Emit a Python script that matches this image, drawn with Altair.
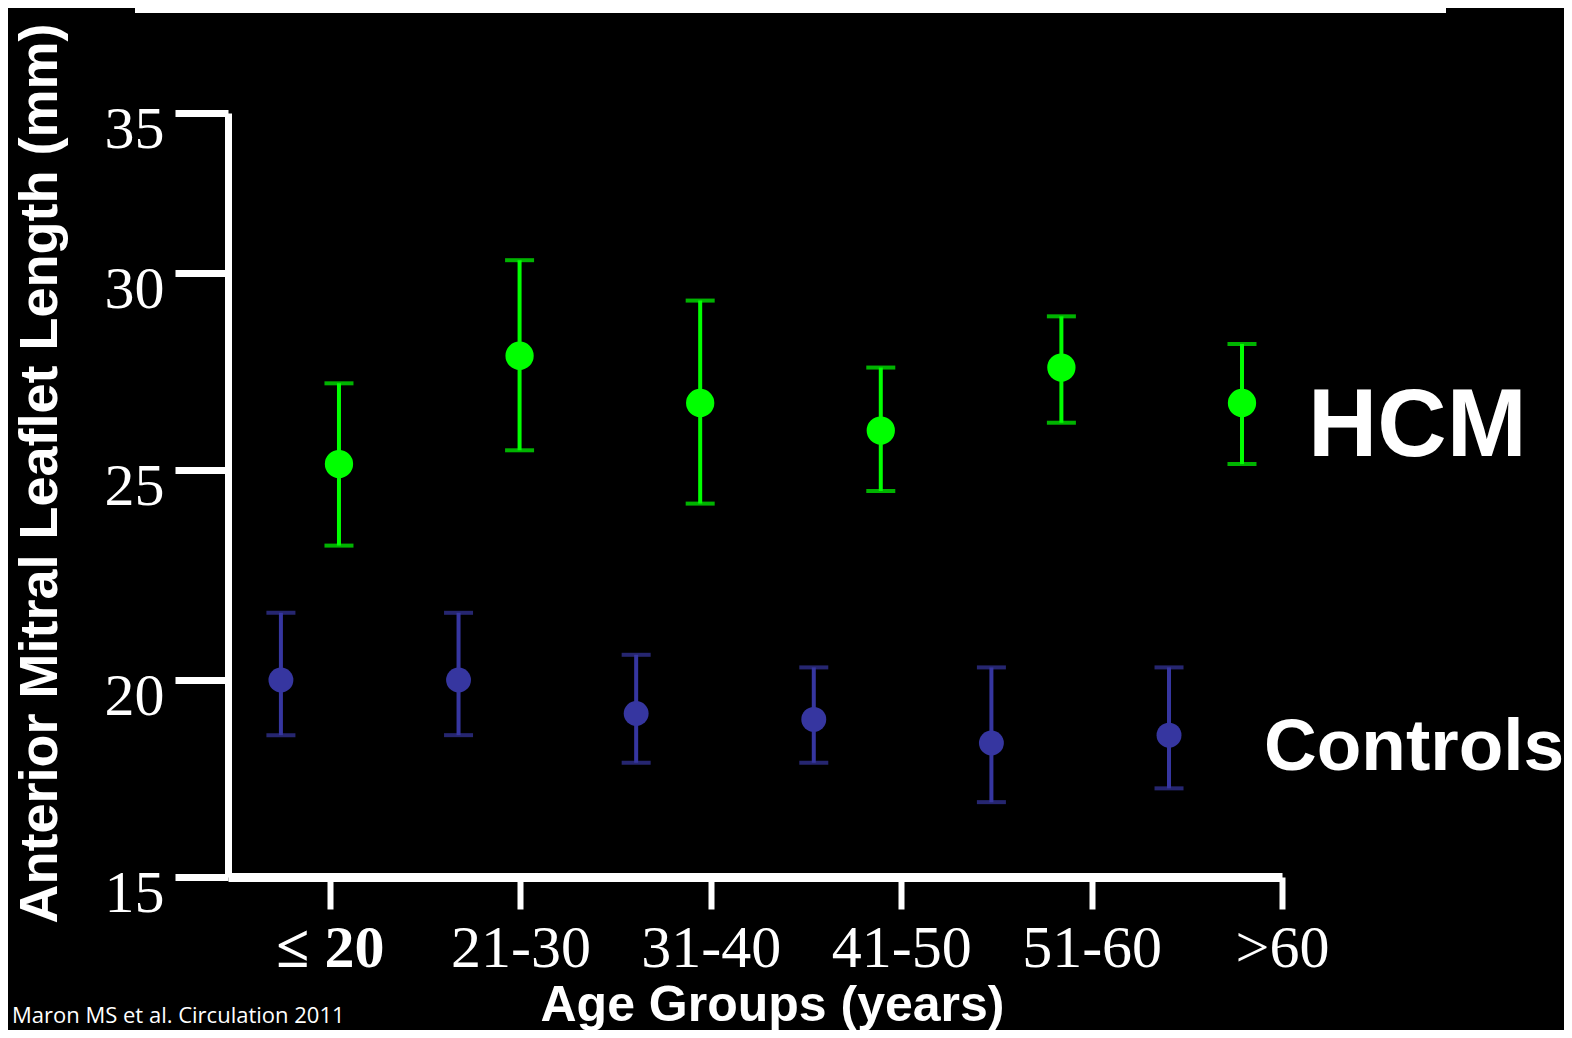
import altair as alt
import pandas as pd

# ---- data ----
age_groups = ["≤ 20", "21-30", "31-40", "41-50", "51-60", ">60"]
hcm_mean = [25.15, 27.9, 26.7, 26.0, 27.6, 26.7]
hcm_low = [23.2, 25.5, 24.2, 24.5, 26.2, 25.15]
hcm_high = [27.2, 30.4, 29.3, 27.6, 28.9, 28.2]
ctrl_mean = [20.0, 20.0, 19.15, 19.0, 18.4, 18.6]
ctrl_low = [18.6, 18.6, 17.9, 17.9, 16.9, 17.25]
ctrl_high = [21.6, 21.6, 20.6, 20.3, 20.3, 20.3]
y_ticks = [15, 20, 25, 30, 35]
citation = "Maron MS et al. Circulation 2011"

GREEN = "#00FF00"
BLUE = "#3636A0"
WHITE = "white"

hcm_df = pd.DataFrame({"age": age_groups, "mean": hcm_mean, "low": hcm_low,
                       "high": hcm_high, "group": "HCM"})
ctrl_df = pd.DataFrame({"age": age_groups, "mean": ctrl_mean, "low": ctrl_low,
                        "high": ctrl_high, "group": "Controls"})

W, H = 1054, 764

# the original axis has uneven tick spacing: piecewise linear scale
yscale = alt.Scale(domain=y_ticks, range=[H, 567, 357, 160, 0])
yaxis = alt.Axis(
    values=y_ticks, grid=False,
    title="Anterior Mitral Leaflet Length (mm)",
    titleFont="Liberation Sans", titleFontWeight="bold", titleFontSize=54,
    titleColor=WHITE, titleAngle=-90, titleX=-172, titleY=360,
    titleAlign="center", titleBaseline="alphabetic",
    labelFont="Liberation Serif", labelFontSize=60, labelColor=WHITE,
    labelPadding=11, labelOffset=16,
    tickSize=53, tickWidth=7, tickColor=WHITE,
    domainColor=WHITE, domainWidth=7,
)


def yenc(field):
    return alt.Y(f"{field}:Q", scale=yscale, axis=yaxis)


# axis layer (carries the category axis)
axis_layer = alt.Chart(hcm_df).mark_point(opacity=0).encode(
    x=alt.X("age:N", sort=age_groups,
            scale=alt.Scale(type="point", padding=0.268, align=1),
            axis=alt.Axis(
                title="Age Groups (years)", titleFont="Liberation Sans",
                titleFontWeight="bold", titleFontSize=50, titleColor=WHITE,
                titleX=544, titleY=143, titleAlign="center",
                titleBaseline="alphabetic",
                labelFont="Liberation Serif", labelFontSize=60,
                labelColor=WHITE, labelAngle=0, labelPadding=10,
                labelFontWeight={"condition": {"test": "datum.value === '≤ 20'",
                                               "value": "bold"},
                                 "value": "normal"},
                tickSize=32, tickWidth=6, tickColor=WHITE,
                domainColor=WHITE, domainWidth=9,
            )),
    y=yenc("mean"),
)


def series_layer(df, color, padding, align, pt_size, label_size, dx, dy):
    base = alt.Chart(df).encode(
        x=alt.X("age:N", sort=age_groups,
                scale=alt.Scale(type="point", padding=padding, align=align),
                axis=None)
    )
    rule = base.mark_rule(color=color, strokeWidth=4).encode(
        y=yenc("low"), y2="high:Q")
    cap_lo = base.mark_tick(color=color, size=29, thickness=4,
                            orient="horizontal").encode(y=yenc("low"))
    cap_hi = base.mark_tick(color=color, size=29, thickness=4,
                            orient="horizontal").encode(y=yenc("high"))
    pts = base.mark_point(filled=True, opacity=1, shape="circle",
                          size=pt_size, color=color).encode(y=yenc("mean"))
    label = base.transform_filter(alt.datum.age == age_groups[-1]).mark_text(
        font="Liberation Sans", fontWeight="bold", fontSize=label_size,
        color=WHITE, align="left", baseline="middle", dx=dx, dy=dy,
    ).encode(y=yenc("mean"), text="group:N")
    return alt.layer(rule, cap_lo, cap_hi, pts, label)


hcm_layer = series_layer(hcm_df, GREEN, 0.418, 0.735, 800, 96, 66, 24)
ctrl_layer = series_layer(ctrl_df, BLUE, 0.467, 0.319, 620, 73, 95, 13)

deco_df = pd.DataFrame({"note": [citation]})
top_line = alt.Chart(deco_df).mark_rule(color=WHITE, strokeWidth=7).encode(
    x=alt.value(-93), x2=alt.value(1218), y=alt.value(-103.5))
cite = alt.Chart(deco_df).mark_text(
    font="Open Sans", fontSize=22, color=WHITE, align="left",
    baseline="alphabetic"
).encode(x=alt.value(-216), y=alt.value(146 + H), text="note:N")

chart = alt.layer(axis_layer, hcm_layer, ctrl_layer, top_line, cite).resolve_scale(
    x="independent"
).properties(
    width=W, height=H,
    padding={"left": 220, "top": 105, "right": 282, "bottom": 153},
    autosize=alt.AutoSizeParams(type="none"),
    background="black",
).configure_view(strokeWidth=0)

chart.save("out.html", embed_options={"renderer": "svg", "actions": False})
